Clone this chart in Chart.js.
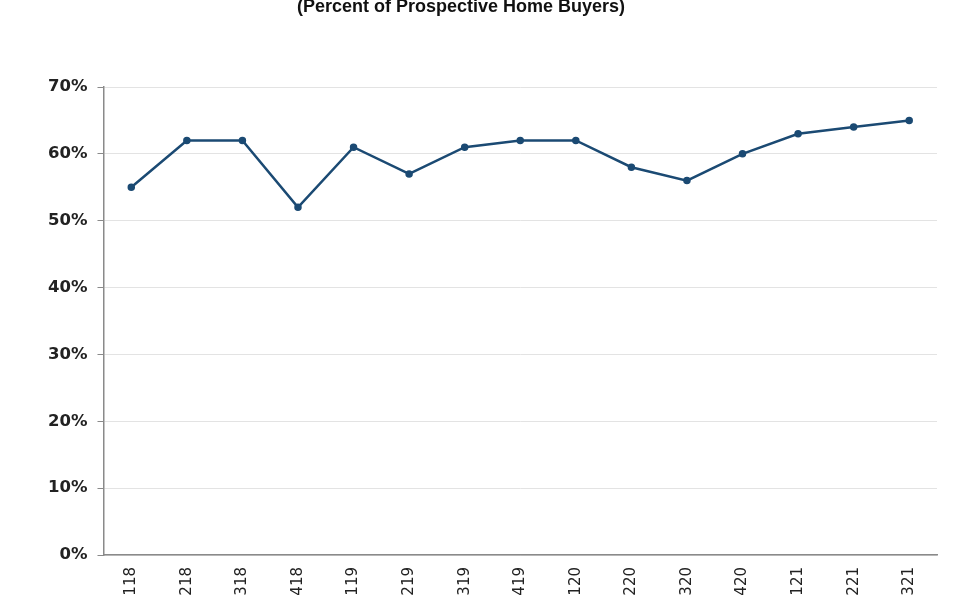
<!DOCTYPE html>
<html>
<head>
<meta charset="utf-8">
<script src="https://cdn.jsdelivr.net/npm/chart.js@4.4.1/dist/chart.umd.min.js"></script>
<style>
  html, body { margin: 0; padding: 0; background: #fff; }
  #wrap { width: 960px; height: 600px; position: relative; }
</style>
</head>
<body>
<div id="wrap"><canvas id="chart"></canvas></div>
<script>
const quarters = ['118', '218', '318', '418', '119', '219', '319', '419', '120', '220', '320', '420', '121', '221', '321'];
const buyerShare = [55, 62, 62, 52, 61, 57, 61, 62, 62, 58, 56, 60, 63, 64, 65];
const yTicks = [0, 10, 20, 30, 40, 50, 60, 70];
const subtitle = '(Percent of Prospective Home Buyers)';

// title is cut off at the top of the image, drawn by hand
const topTitle = {
  id: 'topTitle',
  afterDraw(chart) {
    const ctx = chart.ctx;
    ctx.save();
    ctx.fillStyle = '#111';
    ctx.font = 'bold 18px "Liberation Sans Narrow", "Liberation Sans", Arial, sans-serif';
    ctx.textAlign = 'center';
    ctx.textBaseline = 'middle';
    ctx.fillText(subtitle, 461, 7);
    ctx.restore();
  }
};

new Chart(document.getElementById('chart'), {
  type: 'line',
  plugins: [topTitle],
  data: {
    labels: quarters,
    datasets: [{
      label: 'Prospective Home Buyers',
      data: buyerShare,
      borderColor: '#1b4a73',
      backgroundColor: '#1b4a73',
      borderWidth: 2.5,
      pointRadius: 2.5,
      pointBackgroundColor: '#1b4a73',
      tension: 0
    }]
  },
  options: {
    responsive: true,
    maintainAspectRatio: false,
    animation: false,
    layout: { padding: { left: 38, right: 23, top: 87, bottom: 3 } },
    plugins: {
      legend: { display: false },
      tooltip: { enabled: false },
      title: { display: false }
    },
    scales: {
      x: {
        offset: true,
        afterFit: (axis) => { axis.height = 42; },
        grid: { display: false, drawTicks: false },
        border: { color: '#8a8a8a', width: 1.5 },
        ticks: {
          color: '#222',
          maxRotation: 90,
          minRotation: 90,
          padding: 12,
          autoSkip: false,
          font: { family: '"DejaVu Sans", Verdana, sans-serif', size: 15 }
        }
      },
      y: {
        min: 0,
        max: 70,
        afterBuildTicks: (axis) => { axis.ticks = yTicks.map(v => ({ value: v })); },
        grid: { color: '#e3e3e3', lineWidth: 1, tickLength: 6, tickColor: '#8a8a8a' },
        border: { color: '#8a8a8a', width: 1.5 },
        ticks: {
          color: '#222',
          padding: 10,
          callback: (v) => v + '%',
          font: { family: '"DejaVu Sans", Verdana, sans-serif', size: 16.5, weight: 'bold' }
        }
      }
    }
  }
});
</script>
</body>
</html>
